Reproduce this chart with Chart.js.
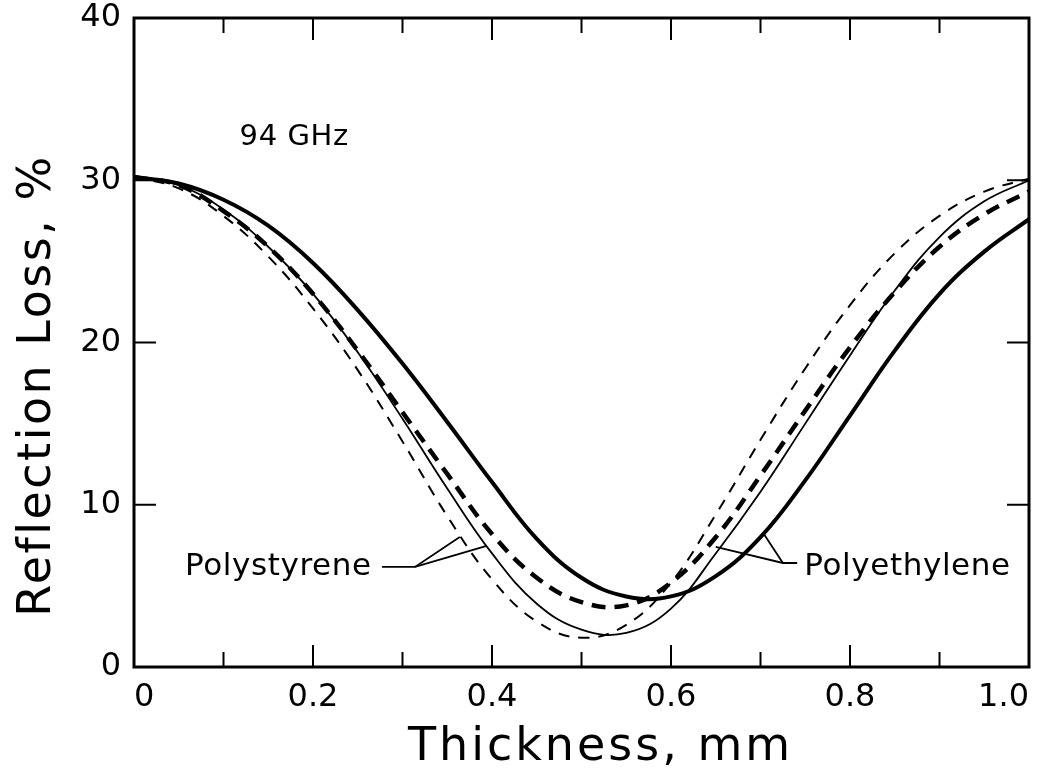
<!DOCTYPE html>
<html>
<head>
<meta charset="utf-8">
<script src="https://cdn.jsdelivr.net/npm/chart.js@4.4.1/dist/chart.umd.min.js"></script>
<style>
  html, body { margin: 0; padding: 0; background: #fff; }
  #wrap { width: 1048px; height: 773px; }
</style>
</head>
<body>
<div id="wrap"><canvas id="grafico" width="1048" height="773"></canvas></div>
<script>
// Thickness, mm
const thickness = [0, 0.05, 0.1, 0.15, 0.2, 0.25, 0.3, 0.35, 0.4, 0.45, 0.5,
                   0.55, 0.6, 0.65, 0.7, 0.75, 0.8, 0.85, 0.9, 0.95, 1.0];

// Reflection loss, %
const peSolid  = [30.2, 29.8, 28.8, 27.2, 24.9, 22.0, 18.7, 15.1, 11.4, 7.9, 5.5,
                  4.35, 4.35, 5.6, 8.0, 11.5, 15.5, 19.5, 23.0, 25.6, 27.6];
const psSolid  = [30.2, 29.7, 28.2, 25.9, 23.0, 19.4, 15.3, 11.0, 7.0, 3.9, 2.3,
                  2.1, 3.6, 7.0, 10.8, 15.0, 19.2, 23.2, 26.5, 28.7, 30.0];
const peDashed = [30.2, 29.7, 28.1, 25.9, 23.0, 19.5, 15.7, 11.9, 8.2, 5.5, 4.0,
                  3.8, 5.2, 8.0, 11.8, 15.8, 19.7, 23.1, 25.9, 27.9, 29.3];
const psDashed = [30.2, 29.5, 27.8, 25.3, 22.1, 18.3, 13.9, 9.3, 5.4, 2.8, 1.8,
                  2.6, 5.2, 9.4, 14.0, 18.4, 22.3, 25.5, 27.8, 29.3, 30.1];

const xTickLabels = ['0', '0.2', '0.4', '0.6', '0.8', '1.0'];
const yTickLabels = ['0', '10', '20', '30', '40'];
const xMajorTicks = [0.2, 0.4, 0.6, 0.8];
const xMinorTicks = [0.1, 0.3, 0.5, 0.7, 0.9];
const yMajorTicks = [10, 20, 30];

// leader lines, in data units
const psLeaders = [[[0.277, 6.17], [0.314, 6.17], [0.364, 8.01]],
                   [[0.314, 6.17], [0.394, 7.46]]];
const peLeaders = [[[0.741, 6.41], [0.725, 6.41], [0.650, 7.40]],
                   [[0.725, 6.41], [0.703, 8.26]]];

const labels = [
    {text: '94 GHz', x: 0.118, y: 32.2, size: 29},
    {text: 'Polystyrene', x: 0.057, y: 5.67, size: 31},
    {text: 'Polyethylene', x: 0.749, y: 5.67, size: 31}
];

const fam = '"DejaVu Sans", sans-serif';

function serie(valores) {
    return thickness.map((t, i) => ({x: t, y: valores[i]}));
}

const decor = {
    id: 'decor',
    afterDatasetsDraw(chart) {
        const ctx = chart.ctx;
        const a = chart.chartArea;
        const x = chart.scales.x;
        const y = chart.scales.y;
        ctx.save();
        ctx.strokeStyle = '#000';
        ctx.fillStyle = '#000';

        // inward ticks
        ctx.lineWidth = 2;
        ctx.beginPath();
        const xt = (v, len) => {
            const px = x.getPixelForValue(v);
            ctx.moveTo(px, a.bottom); ctx.lineTo(px, a.bottom - len);
            ctx.moveTo(px, a.top); ctx.lineTo(px, a.top + len);
        };
        xMajorTicks.forEach(v => xt(v, 22));
        xMinorTicks.forEach(v => xt(v, 15));
        yMajorTicks.forEach(v => {
            const py = y.getPixelForValue(v);
            ctx.moveTo(a.left, py); ctx.lineTo(a.left + 22, py);
            ctx.moveTo(a.right, py); ctx.lineTo(a.right - 22, py);
        });
        ctx.stroke();

        // frame
        ctx.lineWidth = 3;
        ctx.strokeRect(a.left, a.top, a.right - a.left, a.bottom - a.top);

        // leaders
        ctx.lineWidth = 1.8;
        [...psLeaders, ...peLeaders].forEach(l => {
            ctx.beginPath();
            l.forEach((p, i) => {
                const px = x.getPixelForValue(p[0]);
                const py = y.getPixelForValue(p[1]);
                if (i === 0) ctx.moveTo(px, py); else ctx.lineTo(px, py);
            });
            ctx.stroke();
        });

        // labels
        ctx.textAlign = 'left';
        ctx.textBaseline = 'alphabetic';
        ctx.letterSpacing = '0.6px';
        labels.forEach(l => {
            ctx.font = l.size + 'px ' + fam;
            ctx.fillText(l.text, x.getPixelForValue(l.x), y.getPixelForValue(l.y));
        });

        // axis titles
        ctx.font = '46px ' + fam;
        ctx.letterSpacing = '3px';
        ctx.textAlign = 'center';
        ctx.fillText('Thickness, mm', (a.left + a.right) / 2 + 19, a.bottom + 93);

        ctx.letterSpacing = '2.5px';
        ctx.translate(50, (a.top + a.bottom) / 2 + 43);
        ctx.rotate(-Math.PI / 2);
        ctx.fillText('Reflection Loss, %', 0, 0);
        ctx.restore();
    }
};

const comum = {pointRadius: 0, borderColor: '#000', fill: false, tension: 0.4};

const config = {
    type: 'line',
    data: {
        datasets: [
            {...comum, label: 'Polyethylene', data: serie(peSolid), borderWidth: 4},
            {...comum, label: 'Polystyrene', data: serie(psSolid), borderWidth: 1.8},
            {...comum, label: 'Polyethylene', data: serie(peDashed), borderWidth: 4.5, borderDash: [14, 9]},
            {...comum, label: 'Polystyrene', data: serie(psDashed), borderWidth: 2, borderDash: [11, 9]}
        ]
    },
    options: {
        responsive: false,
        animation: false,
        devicePixelRatio: 1,
        layout: {padding: {top: 18, right: 19, left: 0, bottom: 0}},
        plugins: {legend: {display: false}, tooltip: {enabled: false}},
        scales: {
            x: {
                type: 'linear', min: 0, max: 1,
                grid: {display: false, drawTicks: false},
                border: {display: false},
                ticks: {
                    stepSize: 0.2, align: 'inner', padding: 11, color: '#000',
                    font: {family: fam, size: 32},
                    callback: (v, i) => xTickLabels[i]
                },
                afterFit: s => {
                    s.height = 106;
                    s.paddingLeft = 0; s.paddingRight = 0;
                }
            },
            y: {
                min: 0, max: 40,
                grid: {display: false, drawTicks: false},
                border: {display: false},
                ticks: {
                    stepSize: 10, padding: 13, color: '#000',
                    font: {family: fam, size: 32},
                    callback: (v, i) => yTickLabels[i]
                },
                afterFit: s => {
                    s.width = 134;
                    s.paddingTop = 0; s.paddingBottom = 0;
                }
            }
        }
    },
    plugins: [decor]
};

new Chart(document.getElementById('grafico'), config);
</script>
</body>
</html>
